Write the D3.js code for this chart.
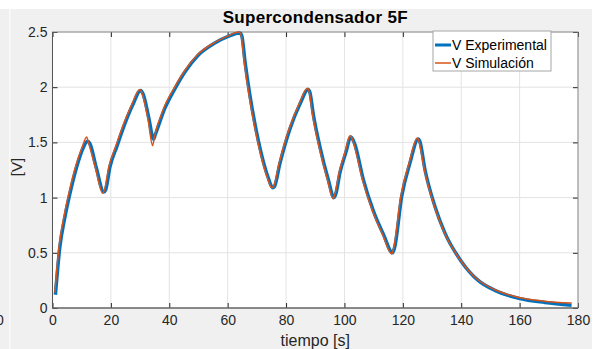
<!DOCTYPE html>
<html>
<head>
<meta charset="utf-8">
<script src="https://cdn.jsdelivr.net/npm/d3@7.9.0/dist/d3.min.js"></script>
<style>
  body { margin: 0; background: #fff; }
  svg { display: block; font-family: 'Liberation Sans', Arial, sans-serif; }
</style>
</head>
<body>
<div id="chart"></div>
<script>
// Experimental voltage (blue)
const expTime = [1, 2.5, 4.3, 6, 8.3, 10.5, 12, 12.8, 15, 17.6, 18.2, 19.7, 22, 24.8, 27.5, 30.2, 31, 33, 34.6, 35.2,
  38.5, 42, 45.4, 49.9, 55.6, 60.2, 64.2, 64.8, 66, 67.6, 69.4, 71.6, 73.9, 75.4, 76, 77.9, 81.3, 84.8, 87.6, 88.2,
  89.3, 91.6, 94.5, 96.4, 97, 98.5, 100.5, 102.2, 103, 103.6, 106.4, 109.9, 113.3, 116.5, 117.2, 119.6, 122.4, 125.3,
  125.8, 127.6, 131, 134.4, 140.1, 145.8, 151.5, 160.1, 168.7, 177.8];
const expVolt = [0.12, 0.55, 0.83, 1.04, 1.28, 1.45, 1.51, 1.49, 1.27, 1.05, 1.07, 1.28, 1.46, 1.67, 1.84, 1.97, 1.94, 1.72, 1.53, 1.57,
  1.81, 1.99, 2.14, 2.29, 2.40, 2.46, 2.49, 2.47, 2.22, 1.93, 1.66, 1.39, 1.18, 1.09, 1.10, 1.31, 1.62, 1.85, 1.98, 1.95,
  1.76, 1.46, 1.16, 1.00, 1.03, 1.23, 1.41, 1.55, 1.52, 1.48, 1.17, 0.88, 0.67, 0.50, 0.55, 1.01, 1.31, 1.53,
  1.51, 1.25, 0.92, 0.68, 0.42, 0.25, 0.16, 0.085, 0.05, 0.025];

// Simulated voltage (orange)
const simTime = [0.8, 2.2, 4.0, 5.7, 8, 10.2, 11.7, 12.3, 14.7, 17.2, 17.8, 19.3, 21.6, 24.4, 27.1, 29.9, 30.6, 32.7, 34.3, 34.9,
  38.1, 41.6, 45, 49.5, 55.2, 59.8, 63.8, 64.5, 65.7, 67.3, 69.1, 71.3, 73.6, 75.1, 75.7, 77.6, 81, 84.5, 87.3, 87.9,
  89, 91.3, 94.2, 96.1, 96.7, 98.2, 100.2, 101.9, 102.7, 103.3, 106.1, 109.6, 113, 116.2, 116.9, 119.3, 122.1, 125,
  125.5, 127.3, 130.7, 134.1, 139.8, 145.5, 151.2, 159.8, 168.4, 177.8];
const simVolt = [0.14, 0.55, 0.84, 1.05, 1.29, 1.46, 1.55, 1.50, 1.27, 1.04, 1.07, 1.28, 1.46, 1.67, 1.84, 1.98, 1.95, 1.71, 1.47, 1.55,
  1.81, 1.99, 2.14, 2.29, 2.40, 2.46, 2.50, 2.48, 2.22, 1.93, 1.66, 1.39, 1.18, 1.09, 1.10, 1.31, 1.62, 1.85, 1.99, 1.96,
  1.76, 1.46, 1.16, 0.99, 1.03, 1.23, 1.41, 1.56, 1.53, 1.48, 1.17, 0.88, 0.67, 0.49, 0.55, 1.01, 1.31, 1.54,
  1.51, 1.26, 0.93, 0.69, 0.43, 0.26, 0.17, 0.095, 0.062, 0.045];

const xTicks = [0, 20, 40, 60, 80, 100, 120, 140, 160, 180];
const yTicks = [0, 0.5, 1, 1.5, 2, 2.5];
const seriesNames = ['V Experimental', 'V Simulación'];

const width = 603;
const height = 349;
const area = { left: 52.5, right: 578, top: 32, bottom: 308 };

const svg = d3.select('#chart').append('svg')
  .attr('width', width)
  .attr('height', height);

// figure background
svg.append('rect').attr('x', 0).attr('y', 9).attr('width', 592).attr('height', height - 9).attr('fill', '#f0f0f0');
svg.append('rect').attr('x', 9).attr('y', 9).attr('width', 1.5).attr('height', height - 9).attr('fill', '#fafafa');
// label of a neighbouring plot, cut at the edge as in the screenshot
svg.append('text').attr('x', -4).attr('y', 325).attr('font-size', 14).attr('fill', '#262626').text('0');

const x = d3.scaleLinear().domain([0, 180]).range([area.left, area.right]);
const y = d3.scaleLinear().domain([0, 2.5]).range([area.bottom, area.top]);

svg.append('rect')
  .attr('x', area.left).attr('y', area.top)
  .attr('width', area.right - area.left).attr('height', area.bottom - area.top)
  .attr('fill', '#fff');

// gridlines
const grid = svg.append('g').attr('stroke', '#e3e3e3').attr('stroke-width', 1);
xTicks.forEach((t) => grid.append('line').attr('x1', x(t)).attr('x2', x(t)).attr('y1', area.top).attr('y2', area.bottom));
yTicks.forEach((t) => grid.append('line').attr('y1', y(t)).attr('y2', y(t)).attr('x1', area.left).attr('x2', area.right));

// axes (ticks pointing inward)
const styleAxis = (g) => {
  g.select('.domain').remove();
  g.selectAll('.tick line').attr('stroke', '#262626');
  g.selectAll('.tick text').attr('fill', '#262626').attr('font-size', 14);
};

svg.append('g')
  .attr('transform', `translate(0,${area.bottom})`)
  .call(d3.axisBottom(x).tickValues(xTicks).tickSizeInner(-5).tickSizeOuter(0).tickPadding(7.5))
  .call(styleAxis);
svg.append('g')
  .attr('transform', `translate(0,${area.top})`)
  .call(d3.axisTop(x).tickValues(xTicks).tickSizeInner(-5).tickSizeOuter(0).tickFormat(''))
  .call(styleAxis);
svg.append('g')
  .attr('transform', `translate(${area.left},0)`)
  .call(d3.axisLeft(y).tickValues(yTicks).tickSizeInner(-5).tickSizeOuter(0).tickPadding(5).tickFormat(d3.format('')))
  .call(styleAxis);
svg.append('g')
  .attr('transform', `translate(${area.right},0)`)
  .call(d3.axisRight(y).tickValues(yTicks).tickSizeInner(-5).tickSizeOuter(0).tickFormat(''))
  .call(styleAxis);

// box
svg.append('rect')
  .attr('x', area.left).attr('y', area.top)
  .attr('width', area.right - area.left).attr('height', area.bottom - area.top)
  .attr('fill', 'none').attr('stroke', '#8c8c8c').attr('stroke-width', 1);
svg.append('line').attr('x1', area.left).attr('x2', area.left).attr('y1', area.top).attr('y2', area.bottom)
  .attr('stroke', '#555').attr('stroke-width', 1);
svg.append('line').attr('x1', area.left).attr('x2', area.right).attr('y1', area.bottom).attr('y2', area.bottom)
  .attr('stroke', '#555').attr('stroke-width', 1);

// lines
const line = d3.line().x((d) => x(d[0])).y((d) => y(d[1])).curve(d3.curveMonotoneX);
const expData = d3.zip(expTime, expVolt);
const simData = d3.zip(simTime, simVolt);

svg.append('path').datum(expData).attr('d', line)
  .attr('fill', 'none').attr('stroke', '#0072BD').attr('stroke-width', 3.5).attr('stroke-linejoin', 'round');
svg.append('path').datum(simData).attr('d', line)
  .attr('fill', 'none').attr('stroke', '#D95319').attr('stroke-width', 1.5).attr('stroke-linejoin', 'round');

// title & labels
svg.append('text').attr('x', (area.left + area.right) / 2).attr('y', 23)
  .attr('text-anchor', 'middle').attr('font-weight', 'bold').attr('font-size', 17)
  .attr('letter-spacing', 0.3).attr('fill', '#000')
  .text('Supercondensador 5F');
svg.append('text').attr('x', (area.left + area.right) / 2).attr('y', 346)
  .attr('text-anchor', 'middle').attr('font-size', 16).attr('fill', '#262626')
  .text('tiempo [s]');
svg.append('text').attr('transform', 'translate(22,167) rotate(-90)')
  .attr('text-anchor', 'middle').attr('font-size', 15).attr('fill', '#262626')
  .text('[V]');

// legend
const legend = svg.append('g').attr('transform', 'translate(433,31)');
legend.append('rect').attr('width', 118).attr('height', 40)
  .attr('fill', '#fff').attr('stroke', '#a6a6a6').attr('stroke-width', 1);
const colors = ['#0072BD', '#D95319'];
const widths = [3, 1.5];
seriesNames.forEach((name, i) => {
  const yy = 14 + i * 18;
  legend.append('line').attr('x1', 2).attr('x2', 18).attr('y1', yy).attr('y2', yy)
    .attr('stroke', colors[i]).attr('stroke-width', widths[i]);
  legend.append('text').attr('x', 19).attr('y', yy + 5).attr('font-size', 14).attr('fill', '#000').text(name);
});
</script>
</body>
</html>
